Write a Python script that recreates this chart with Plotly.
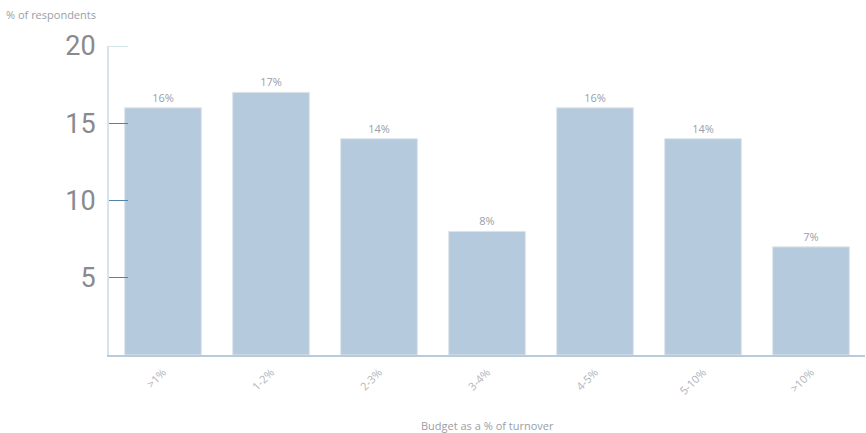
import plotly.graph_objects as go

categories = [">1%", "1-2%", "2-3%", "3-4%", "4-5%", "5-10%", ">10%"]
respondents_pct = [16, 17, 14, 8, 16, 14, 7]
y_ticks = [5, 10, 15, 20]

fig = go.Figure(
    go.Bar(
        x=categories,
        y=respondents_pct,
        text=[f"{v}%" for v in respondents_pct],
        textposition="outside",
        textfont=dict(family="Open Sans", size=11, color="#9a9ea6"),
        cliponaxis=False,
        marker=dict(color="#b6cadd", line=dict(color="#dfe4ea", width=1)),
        width=0.71,
        hoverinfo="skip",
    )
)

fig.update_layout(
    width=866,
    height=433,
    margin=dict(l=109, r=1, t=46, b=78),
    paper_bgcolor="white",
    plot_bgcolor="white",
    showlegend=False,
    title=dict(
        text="% of respondents",
        x=6 / 866, xref="container", xanchor="left",
        y=1 - 15 / 433, yref="container", yanchor="middle",
        font=dict(family="Open Sans", size=11, color="#9a9ea6"),
    ),
    annotations=[
        dict(
            text="Budget as a % of turnover",
            xref="paper", yref="paper",
            x=0.5, y=-70 / 309,
            xanchor="center", yanchor="middle",
            showarrow=False,
            font=dict(family="Open Sans", size=11, color="#9a9ea6"),
        )
    ],
    shapes=[
        # lighter tick at the top of the value axis
        dict(
            type="line", xref="paper", yref="y",
            x0=0, x1=19 / 756, y0=20, y1=20,
            line=dict(color="#a9c9da", width=1),
        )
    ],
)

fig.update_xaxes(
    showline=True,
    linecolor="#b9cbd9",
    linewidth=1.5,
    showgrid=False,
    ticks="",
    tickangle=-45,
    ticklabelstandoff=5,
    tickfont=dict(family="Open Sans", size=11, color="#b0b4ba"),
)

fig.update_yaxes(
    range=[0, 20],
    tickvals=y_ticks,
    showline=True,
    linecolor="#d6e4ee",
    linewidth=2,
    showgrid=False,
    zeroline=False,
    ticks="inside",
    ticklen=19,
    tickwidth=1,
    tickcolor="#4f86a8",
    ticklabelstandoff=6,
    tickfont=dict(family="Roboto", size=27, color="#8a8a8e"),
)

fig.write_html("out.html")
